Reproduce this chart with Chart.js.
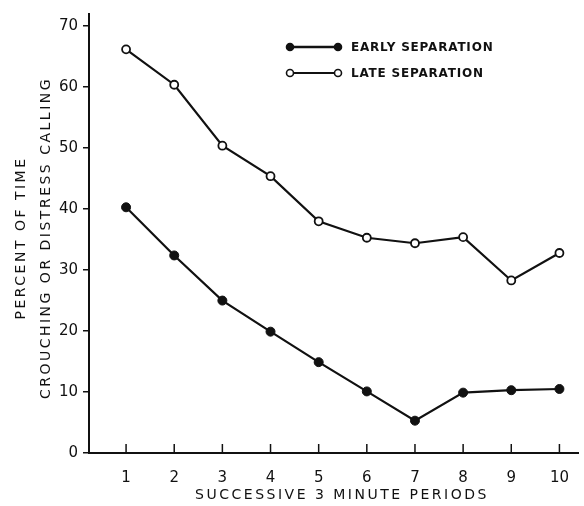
<!DOCTYPE html>
<html>
<head>
<meta charset="utf-8">
<script src="https://cdn.jsdelivr.net/npm/chart.js@4/dist/chart.umd.min.js"></script>
<style>
    body { margin: 0; background: #fff; }
    #wrap { width: 584px; height: 506px; }
</style>
</head>
<body>
<div id="wrap"><canvas id="sepChart" width="584" height="506"></canvas></div>
<script>
// Values
const periods = [1, 2, 3, 4, 5, 6, 7, 8, 9, 10];
const earlySeparation = [40.3, 32.4, 25.0, 19.9, 14.9, 10.1, 5.3, 9.9, 10.3, 10.5];
const lateSeparation = [66.2, 60.4, 50.4, 45.4, 38.0, 35.3, 34.4, 35.4, 28.3, 32.8];
const yTickValues = [0, 10, 20, 30, 40, 50, 60, 70];
const xTickValues = [1, 2, 3, 4, 5, 6, 7, 8, 9, 10];
const seriesNames = ['EARLY SEPARATION', 'LATE SEPARATION'];
const yTitleLines = ['PERCENT OF TIME', 'CROUCHING OR DISTRESS CALLING'];
const xTitle = 'SUCCESSIVE 3 MINUTE PERIODS';

const ink = '#111';
const labelFont = '"DejaVu Sans", sans-serif';

// Draws x ticks (pointing up), axis titles and the legend
const decorations = {
    id: 'decorations',
    afterDraw(chart) {
        const ctx = chart.ctx;
        const xs = chart.scales.x;
        const area = chart.chartArea;
        ctx.save();
        ctx.strokeStyle = ink;
        ctx.fillStyle = ink;

        // x ticks drawn inward
        ctx.lineWidth = 1.5;
        xTickValues.forEach(v => {
            const px = xs.getPixelForValue(v);
            ctx.beginPath();
            ctx.moveTo(px, area.bottom);
            ctx.lineTo(px, area.bottom - 9);
            ctx.stroke();
        });

        // axis titles
        ctx.font = '14px ' + labelFont;
        ctx.letterSpacing = '2.5px';
        ctx.textAlign = 'center';
        ctx.textBaseline = 'middle';
        ctx.fillText(xTitle, 342, 495);

        const midY = 238;
        ctx.save();
        ctx.translate(21, midY);
        ctx.rotate(-Math.PI / 2);
        ctx.fillText(yTitleLines[0], 0, 0);
        ctx.restore();
        ctx.save();
        ctx.translate(46, midY);
        ctx.rotate(-Math.PI / 2);
        ctx.fillText(yTitleLines[1], 0, 0);
        ctx.restore();

        // legend
        const rows = [
            { y: 47, fill: ink },
            { y: 73, fill: '#fff' }
        ];
        ctx.font = 'bold 12px ' + labelFont;
        ctx.letterSpacing = '0.8px';
        ctx.textAlign = 'left';
        rows.forEach((row, i) => {
            ctx.lineWidth = i === 0 ? 2.5 : 1.8;
            ctx.beginPath();
            ctx.moveTo(290, row.y);
            ctx.lineTo(338, row.y);
            ctx.stroke();
            [290, 338].forEach(cx => {
                ctx.beginPath();
                ctx.arc(cx, row.y, 3.5, 0, Math.PI * 2);
                ctx.fillStyle = row.fill;
                ctx.fill();
                ctx.lineWidth = 1.6;
                ctx.stroke();
            });
            ctx.fillStyle = ink;
            ctx.fillText(seriesNames[i], 351, row.y + 1);
        });
        ctx.restore();
    }
};

const ctx = document.getElementById('sepChart').getContext('2d');
const sepChart = new Chart(ctx, {
    type: 'line',
    data: {
        datasets: [
            {
                label: seriesNames[0],
                data: periods.map((p, i) => ({ x: p, y: earlySeparation[i] })),
                borderColor: ink,
                borderWidth: 2.2,
                pointRadius: 4.5,
                pointBackgroundColor: ink,
                pointBorderColor: ink,
                pointBorderWidth: 1,
                tension: 0
            },
            {
                label: seriesNames[1],
                data: periods.map((p, i) => ({ x: p, y: lateSeparation[i] })),
                borderColor: ink,
                borderWidth: 2.2,
                pointRadius: 4,
                pointBackgroundColor: '#fff',
                pointBorderColor: ink,
                pointBorderWidth: 1.8,
                tension: 0
            }
        ]
    },
    options: {
        responsive: false,
        animation: false,
        layout: { padding: { top: 8, right: 0, left: 0, bottom: 0 } },
        plugins: {
            legend: { display: false },
            tooltip: { enabled: false }
        },
        scales: {
            x: {
                type: 'linear',
                min: 0.23,
                max: 10.39,
                afterFit: scale => { scale.height = 53; },
                afterBuildTicks: scale => {
                    scale.ticks = xTickValues.map(v => ({ value: v }));
                },
                grid: { display: false },
                border: { color: ink, width: 2 },
                ticks: {
                    color: ink,
                    font: { family: labelFont, size: 15 },
                    padding: 8,
                    autoSkip: false,
                    maxRotation: 0
                }
            },
            y: {
                min: 0,
                max: 72,
                afterFit: scale => { scale.width = 89; },
                afterBuildTicks: scale => {
                    scale.ticks = yTickValues.map(v => ({ value: v }));
                },
                grid: {
                    drawOnChartArea: false,
                    drawTicks: true,
                    tickLength: 6,
                    color: ink,
                    lineWidth: 1.5
                },
                border: { color: ink, width: 2 },
                ticks: {
                    color: ink,
                    font: { family: labelFont, size: 15 },
                    padding: 5
                }
            }
        }
    },
    plugins: [decorations]
});
</script>
</body>
</html>
